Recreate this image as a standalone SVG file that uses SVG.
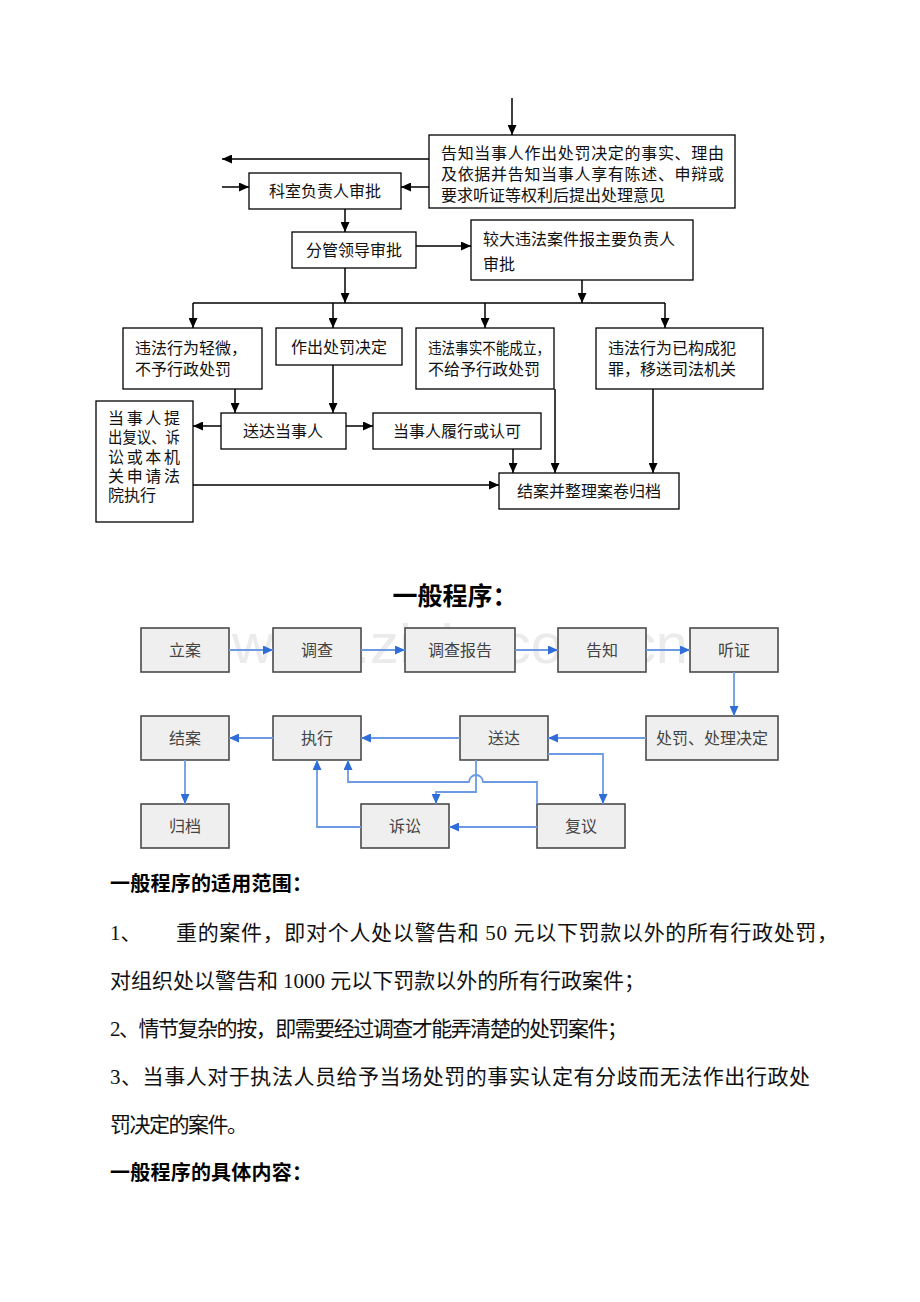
<svg xmlns="http://www.w3.org/2000/svg" width="920" height="1302" viewBox="0 0 920 1302">
<style>
.bk{fill:#fff;stroke:#000;stroke-width:1.3}
.t{font-family:"Liberation Serif","Noto Sans CJK SC",serif;font-size:16px;fill:#111}
.c{text-anchor:middle}
.ln{fill:none;stroke:#000;stroke-width:1.5}
.gb{fill:#efefef;stroke:#4a4a4a;stroke-width:1.6}
.gt{font-family:"Liberation Serif","Noto Sans CJK SC",serif;font-size:16px;fill:#444;text-anchor:middle}
.bl{fill:none;stroke:#6d9be3;stroke-width:1.8}
.p{font-family:"Liberation Serif","Noto Sans CJK SC",serif;font-size:21px;fill:#111}
.h{font-family:"Liberation Serif","Noto Sans CJK SC",serif;font-size:20px;font-weight:bold;fill:#000}
</style>
<defs>
<marker id="ak" markerUnits="userSpaceOnUse" markerWidth="10" markerHeight="9" refX="10" refY="4.5" orient="auto"><path d="M0,0 L10,4.5 L0,9 z" fill="#000"/></marker>
<marker id="ab" markerUnits="userSpaceOnUse" markerWidth="10" markerHeight="9" refX="10" refY="4.5" orient="auto"><path d="M0,0 L10,4.5 L0,9 z" fill="#2f6ed8"/></marker>
</defs>
<rect width="920" height="1302" fill="#fff"/>

<!-- top flowchart -->
<g id="nA"><rect class="bk" x="429" y="135" width="306" height="73"/>
<text class="t" x="441" y="159" textLength="283">告知当事人作出处罚决定的事实、理由</text>
<text class="t" x="441" y="180" textLength="283">及依据并告知当事人享有陈述、申辩或</text>
<text class="t" x="441" y="201">要求听证等权利后提出处理意见</text></g>
<g id="nB"><rect class="bk" x="249" y="173" width="152" height="36"/><text class="t c" x="325" y="197">科室负责人审批</text></g>
<g id="nC"><rect class="bk" x="292" y="232" width="124" height="36"/><text class="t c" x="354" y="256">分管领导审批</text></g>
<g id="nD"><rect class="bk" x="471" y="220" width="222" height="60"/><text class="t" x="483" y="245">较大违法案件报主要负责人</text><text class="t" x="483" y="270">审批</text></g>
<g id="nE"><rect class="bk" x="123" y="328" width="139" height="61"/><text class="t" x="135" y="354">违法行为轻微，</text><text class="t" x="135" y="375">不予行政处罚</text></g>
<g id="nF"><rect class="bk" x="276" y="328" width="126" height="37"/><text class="t c" x="339" y="353">作出处罚决定</text></g>
<g id="nG"><rect class="bk" x="416" y="328" width="138" height="61"/><text class="t" x="428" y="354" textLength="122" lengthAdjust="spacingAndGlyphs">违法事实不能成立，</text><text class="t" x="428" y="375">不给予行政处罚</text></g>
<g id="nH"><rect class="bk" x="596" y="328" width="167" height="61"/><text class="t" x="608" y="354">违法行为已构成犯</text><text class="t" x="608" y="375">罪，移送司法机关</text></g>
<g id="nI"><rect class="bk" x="221" y="413" width="125" height="36"/><text class="t c" x="283" y="437">送达当事人</text></g>
<g id="nJ"><rect class="bk" x="373" y="413" width="168" height="36"/><text class="t c" x="457" y="437">当事人履行或认可</text></g>
<g id="nK"><rect class="bk" x="96" y="401" width="97" height="121"/>
<text class="t" x="108" y="424" textLength="72">当事人提</text>
<text class="t" x="108" y="443" textLength="72" lengthAdjust="spacingAndGlyphs">出复议、诉</text>
<text class="t" x="108" y="463" textLength="72">讼或本机</text>
<text class="t" x="108" y="482" textLength="72">关申请法</text>
<text class="t" x="108" y="501">院执行</text></g>
<g id="nL"><rect class="bk" x="499" y="473" width="180" height="36"/><text class="t c" x="589" y="497">结案并整理案卷归档</text></g>

<g id="topConnectors">
<path class="ln" d="M512,98 V135" marker-end="url(#ak)"/>
<path class="ln" d="M429,159 H222" marker-end="url(#ak)"/>
<path class="ln" d="M222,187 H249" marker-end="url(#ak)"/>
<path class="ln" d="M429,187 H401" marker-end="url(#ak)"/>
<path class="ln" d="M345,209 V232" marker-end="url(#ak)"/>
<path class="ln" d="M416,246 H471" marker-end="url(#ak)"/>
<path class="ln" d="M345,268 V303" marker-end="url(#ak)"/>
<path class="ln" d="M582,280 V303" marker-end="url(#ak)"/>
<path class="ln" d="M193,303 H665"/>
<path class="ln" d="M193,303 V328" marker-end="url(#ak)"/>
<path class="ln" d="M333,303 V328" marker-end="url(#ak)"/>
<path class="ln" d="M485,303 V328" marker-end="url(#ak)"/>
<path class="ln" d="M665,303 V328" marker-end="url(#ak)"/>
<path class="ln" d="M235,389 V413" marker-end="url(#ak)"/>
<path class="ln" d="M333,365 V413" marker-end="url(#ak)"/>
<path class="ln" d="M346,426 H373" marker-end="url(#ak)"/>
<path class="ln" d="M221,426 H193" marker-end="url(#ak)"/>
<path class="ln" d="M513,449 V473" marker-end="url(#ak)"/>
<path class="ln" d="M555,389 V473" marker-end="url(#ak)"/>
<path class="ln" d="M653,389 V473" marker-end="url(#ak)"/>
<path class="ln" d="M193,485 H499" marker-end="url(#ak)"/>
</g>

<!-- title -->
<text x="455" y="605" text-anchor="middle" style="font-family:'Liberation Sans','Noto Sans CJK SC',sans-serif;font-size:25px;font-weight:bold;fill:#000">一般程序：</text>

<!-- watermark (behind the boxes) -->
<text x="232" y="663" textLength="456" lengthAdjust="spacingAndGlyphs" style="font-family:'Liberation Sans',sans-serif;font-size:56px;fill:#d9d9d9;opacity:0.5">www.zixin.com.cn</text>

<!-- bottom flowchart -->
<g id="m1"><rect class="gb" x="141" y="628" width="88" height="44"/><text class="gt" x="185" y="656">立案</text></g>
<g id="m2"><rect class="gb" x="273" y="628" width="88" height="44"/><text class="gt" x="317" y="656">调查</text></g>
<g id="m3"><rect class="gb" x="405" y="628" width="110" height="44"/><text class="gt" x="460" y="656">调查报告</text></g>
<g id="m4"><rect class="gb" x="558" y="628" width="88" height="44"/><text class="gt" x="602" y="656">告知</text></g>
<g id="m5"><rect class="gb" x="690" y="628" width="88" height="44"/><text class="gt" x="734" y="656">听证</text></g>
<g id="m6"><rect class="gb" x="141" y="716" width="88" height="44"/><text class="gt" x="185" y="744">结案</text></g>
<g id="m7"><rect class="gb" x="273" y="716" width="88" height="44"/><text class="gt" x="317" y="744">执行</text></g>
<g id="m8"><rect class="gb" x="460" y="716" width="88" height="44"/><text class="gt" x="504" y="744">送达</text></g>
<g id="m9"><rect class="gb" x="646" y="716" width="132" height="44"/><text class="gt" x="712" y="744">处罚、处理决定</text></g>
<g id="m10"><rect class="gb" x="141" y="804" width="88" height="44"/><text class="gt" x="185" y="832">归档</text></g>
<g id="m11"><rect class="gb" x="361" y="804" width="88" height="44"/><text class="gt" x="405" y="832">诉讼</text></g>
<g id="m12"><rect class="gb" x="537" y="804" width="88" height="44"/><text class="gt" x="581" y="832">复议</text></g>

<g id="blueConnectors">
<path class="bl" d="M229,650 H273" marker-end="url(#ab)"/>
<path class="bl" d="M361,650 H405" marker-end="url(#ab)"/>
<path class="bl" d="M515,650 H558" marker-end="url(#ab)"/>
<path class="bl" d="M646,650 H690" marker-end="url(#ab)"/>
<path class="bl" d="M734,672 V716" marker-end="url(#ab)"/>
<path class="bl" d="M646,738 H548" marker-end="url(#ab)"/>
<path class="bl" d="M460,738 H361" marker-end="url(#ab)"/>
<path class="bl" d="M273,738 H229" marker-end="url(#ab)"/>
<path class="bl" d="M185,760 V804" marker-end="url(#ab)"/>
<path class="bl" d="M548,754 H603 V804" marker-end="url(#ab)"/>
<path class="bl" d="M476,760 V792 H436 V804" marker-end="url(#ab)"/>
<path class="bl" d="M537,804 V782 H483 A7,7 0 0 0 469,782 H348 V760" marker-end="url(#ab)"/>
<path class="bl" d="M537,827 H449" marker-end="url(#ab)"/>
<path class="bl" d="M361,827 H317 V760" marker-end="url(#ab)"/>
</g>

<!-- text section -->
<text class="h" x="110" y="891" textLength="202">一般程序的适用范围：</text>
<text class="p" x="110" y="940">1、</text>
<text class="p" x="176" y="940" textLength="662">重的案件，即对个人处以警告和 50 元以下罚款以外的所有行政处罚，</text>
<text class="p" x="110" y="988" textLength="535">对组织处以警告和 1000 元以下罚款以外的所有行政案件；</text>
<text class="p" x="110" y="1036" textLength="518">2、情节复杂的按，即需要经过调查才能弄清楚的处罚案件；</text>
<text class="p" x="110" y="1084" textLength="700">3、当事人对于执法人员给予当场处罚的事实认定有分歧而无法作出行政处</text>
<text class="p" x="110" y="1132" textLength="138">罚决定的案件。</text>
<text class="h" x="110" y="1180" textLength="202">一般程序的具体内容：</text>
</svg>
